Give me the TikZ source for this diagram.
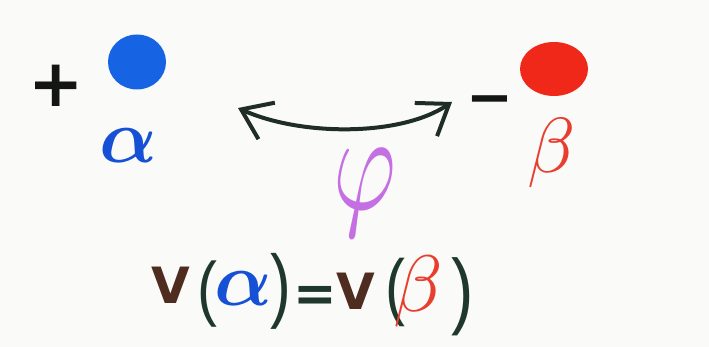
\documentclass[tikz,border=0pt]{standalone}
\usepackage{fontspec}
\usepackage{graphicx}
\newfontfamily\djs{DejaVu Sans}
\newfontfamily\lbs{Liberation Sans}
\usetikzlibrary{arrows.meta,shapes.geometric}
\definecolor{bgc}{RGB}{250,250,249}
\definecolor{dotblue}{RGB}{22,100,228}
\definecolor{albl}{RGB}{22,80,212}
\definecolor{dotred}{RGB}{240,40,25}
\definecolor{betred}{RGB}{232,62,45}
\definecolor{phipur}{RGB}{196,112,226}
\definecolor{arrowc}{RGB}{30,45,38}
\definecolor{inkblk}{RGB}{20,22,20}
\definecolor{vbrown}{RGB}{78,44,32}
\definecolor{pgreen}{RGB}{30,56,44}
\begin{document}
\begin{tikzpicture}[x=1pt,y=-1pt,
  glyph/.style={inner sep=0pt, outer sep=0pt},
  blob/.style={ellipse, inner sep=0pt, draw=none},
  sansb/.style={glyph, font=\djs\bfseries\fontsize{#1}{#1}\selectfont},
  mathg/.style={glyph},
  mathb/.style={glyph, font=\boldmath},
  paren/.style={glyph, text=pgreen, font=\lbs\fontsize{#1}{#1}\selectfont},
  barb/.tip={Straight Barb[length=28pt,width=40pt]},
  swing/.style={draw=arrowc, line width=4pt, line cap=round, barb-barb}]
\fill[bgc] (0,0) rectangle (709,347);
\useasboundingbox (0,0) rectangle (709,347);

% charges
\node[blob, fill=dotblue, minimum width=58pt, minimum height=55pt] (bdot) at (137,62) {};
\node[blob, fill=dotred, minimum width=68pt, minimum height=54pt] (rdot) at (554,69) {};
\node[sansb=66, text=inkblk] (plus) at (56,86) {+};
\node[sansb=56, text=inkblk] (minus) at (490,106) {−};
\node[mathb, text=albl] (atop) at (128,146) {\scalebox{7.6}{$\alpha$}};
\node[mathg, text=betred] (btop) at (552,153) {\scalebox{7.8}{$\beta$}};

% swing arrow
\coordinate (al) at (238,108);
\coordinate (ar) at (452,102);
\draw[swing] (al) .. controls (300,136) and (400,137) .. (ar);

% phi
\node[mathg, text=phipur] (phi) at (365,193) {\scalebox{9.6}[14]{$\varphi$}};

% equation
\node[sansb=50, text=vbrown] (v1) at (171,285) {V};
\node[paren=46] (lp1) at (207,294) {\scalebox{1.3}[1.55]{(}};
\node[mathb, text=albl] (al2) at (243,289) {\scalebox{7.6}{$\alpha$}};
\node[paren=48] (rp1) at (281,291) {\scalebox{1.3}[1.7]{)}};
\node[sansb=52, text=pgreen] (eq) at (315,299) {=};
\node[sansb=50, text=vbrown] (v2) at (356,291) {V};
\node[paren=46] (lp2) at (395,292) {\scalebox{1.3}[1.6]{(}};
\node[mathg, text=betred] (be2) at (418,291) {\scalebox{8}{$\beta$}};
\node[paren=48] (rp2) at (463,297) {\scalebox{1.4}[1.75]{)}};
\end{tikzpicture}
\end{document}
